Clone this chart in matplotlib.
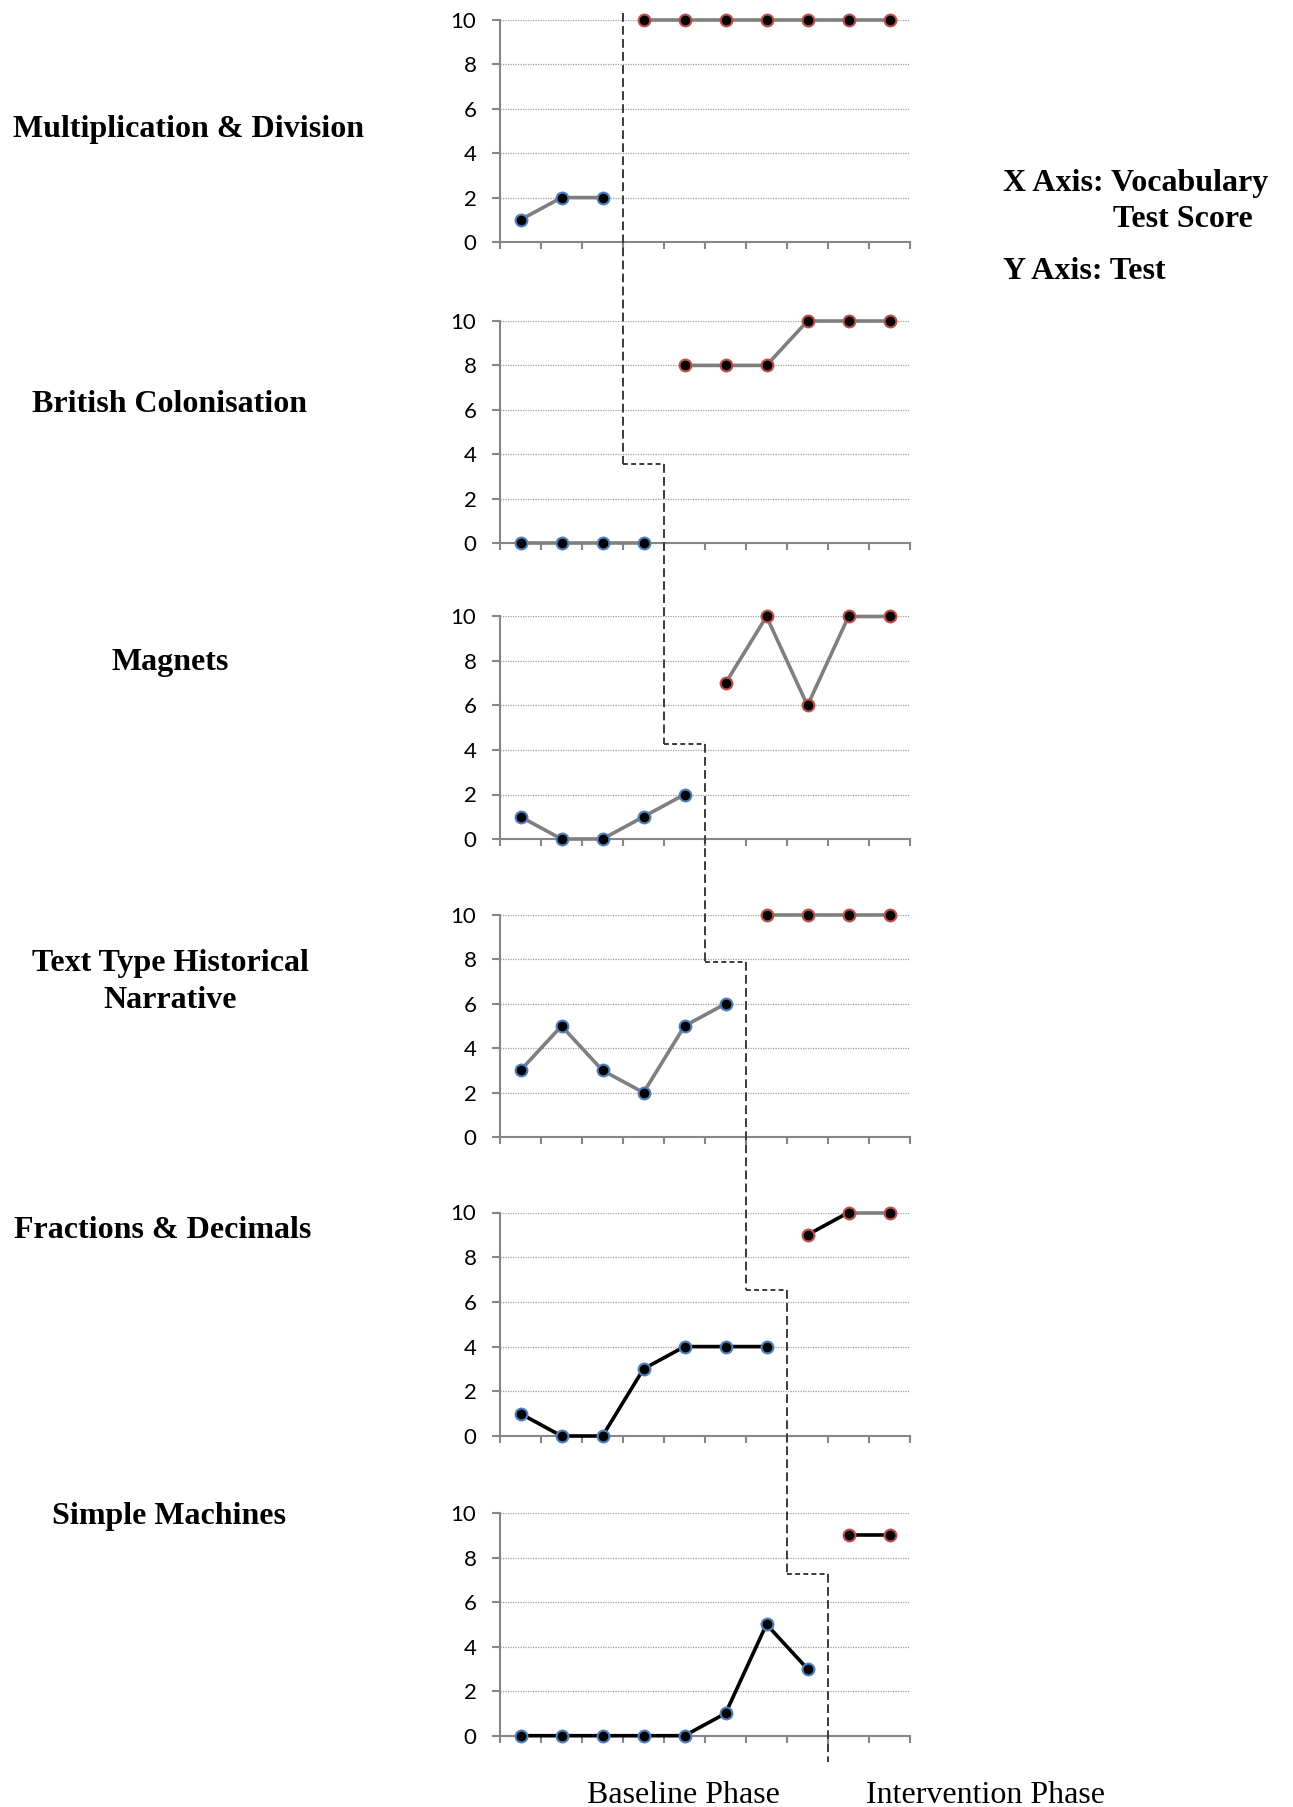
import matplotlib
matplotlib.use("Agg")
import matplotlib.pyplot as plt
from matplotlib.lines import Line2D

# ---------------- data ----------------
topics = ["Multiplication & Division", "British Colonisation", "Magnets",
          "Text Type Historical\nNarrative", "Fractions & Decimals", "Simple Machines"]
baseline_1 = [1, 2, 2]
intervention_1 = [10, 10, 10, 10, 10, 10, 10]
baseline_2 = [0, 0, 0, 0]
intervention_2 = [8, 8, 8, 10, 10, 10]
baseline_3 = [1, 0, 0, 1, 2]
intervention_3 = [7, 10, 6, 10, 10]
baseline_4 = [3, 5, 3, 2, 5, 6]
intervention_4 = [10, 10, 10, 10]
baseline_5 = [1, 0, 0, 3, 4, 4, 4]
intervention_5 = [9, 10, 10]
baseline_6 = [0, 0, 0, 0, 0, 1, 5, 3]
intervention_6 = [9, 9]
yticks = [0, 2, 4, 6, 8, 10]
phase_labels = ["Baseline Phase", "Intervention Phase"]
axis_notes = ["X Axis: Vocabulary", "Test Score", "Y Axis: Test"]

baselines = [baseline_1, baseline_2, baseline_3, baseline_4, baseline_5, baseline_6]
interventions = [intervention_1, intervention_2, intervention_3, intervention_4,
                 intervention_5, intervention_6]

# ---------------- style ----------------
W, H = 1293, 1807
DPI = 100
fig = plt.figure(figsize=(W / DPI, H / DPI), dpi=DPI)

line_colors = ["#7f7f7f", "#7f7f7f", "#7f7f7f", "#7f7f7f", "black", "black"]
blue_edge = "#4f81bd"
red_edge = "#c0504d"
axis_gray = "#868686"

# panel pixel extents (top of y=10, y=0)
panel_px = [(20, 242), (321, 543), (616.5, 839), (915, 1137), (1212.5, 1436), (1513, 1735.7)]
x_left_px, x_right_px = 500, 910

# staircase step levels (data units in the panel where the step occurs)
step_levels = [3.55, 4.25, 7.9, 6.53, 7.25]
stair_top, stair_bottom = 10.3, -1.17

# left label positions (px): x, y, ha
label_pos = [(12.7, 137, "left"), (170, 412.5, "center"), (170, 670, "center"),
             (170.5, 982, "center"), (14, 1238, "left"), (169.4, 1524, "center")]

LW = 2.6
MS = 8.5

axes = []
for i in range(6):
    top, bot = panel_px[i]
    ax = fig.add_axes([x_left_px / W, 1 - bot / H, (x_right_px - x_left_px) / W, (bot - top) / H])
    axes.append(ax)
    n_total = len(baselines[i]) + len(interventions[i])
    xb = list(range(len(baselines[i])))
    xi = list(range(len(baselines[i]), n_total))
    ax.set_xlim(-0.5, n_total - 0.5)
    ax.set_ylim(0, 10)
    ax.set_yticks(yticks)
    ax.set_xticks([k - 0.5 for k in range(n_total + 1)])
    ax.set_xticklabels([])
    for sp in ["top", "right"]:
        ax.spines[sp].set_visible(False)
    for sp in ["left", "bottom"]:
        ax.spines[sp].set_color(axis_gray)
        ax.spines[sp].set_linewidth(1.5)
    ax.tick_params(axis="x", direction="out", length=5, width=1.5, color=axis_gray)
    ax.tick_params(axis="y", direction="out", length=6, width=1.5, color=axis_gray,
                   pad=11, labelsize=16)
    for lab in ax.get_yticklabels():
        lab.set_fontfamily("Lato")
    ax.yaxis.grid(True, linestyle=(0, (1, 1)), color="#a0a0a0", linewidth=0.9)
    ax.set_axisbelow(True)
    lc = line_colors[i]
    ax.plot(xb, baselines[i], color=lc, lw=LW, zorder=3, clip_on=False,
            marker="o", ms=MS, mfc="black", mec=blue_edge, mew=1.5)
    if i == 4:
        # first intervention segment black, the rest gray (as in reference)
        ax.plot(xi[1:], interventions[i][1:], color="#7f7f7f", lw=LW, zorder=3, clip_on=False)
        ax.plot(xi[:2], interventions[i][:2], color=lc, lw=LW, zorder=3, clip_on=False)
        ax.plot(xi, interventions[i], ls="none", zorder=4, clip_on=False,
                marker="o", ms=MS, mfc="black", mec=red_edge, mew=1.5)
    else:
        ax.plot(xi, interventions[i], color=lc, lw=LW, zorder=3, clip_on=False,
                marker="o", ms=MS, mfc="black", mec=red_edge, mew=1.5)

    x, yb, ha = label_pos[i]
    va = "center" if "\n" in topics[i] else "baseline"
    fig.text(x / W, 1 - yb / H, topics[i], ha=ha, va=va, family="Liberation Serif",
             fontweight="bold", fontsize=23, linespacing=1.35, multialignment="center")

# ---------------- staircase phase-change line ----------------
inv = fig.transFigure.inverted()


def fpt(ax, x, y):
    return inv.transform(ax.transData.transform((x, y)))


def seg(p, q, dashes):
    ln = Line2D([p[0], q[0]], [p[1], q[1]], transform=fig.transFigure, color="#3a3a3a",
                lw=1.4, dashes=dashes)
    fig.add_artist(ln)


vdash = (4.5, 2.2)
hdash = (2.5, 1.7)
bounds = [len(b) - 0.5 for b in baselines]
cur = fpt(axes[0], bounds[0], stair_top)
for i in range(1, 6):
    a = fpt(axes[i], bounds[i - 1], step_levels[i - 1])
    seg(cur, a, vdash)
    b = fpt(axes[i], bounds[i], step_levels[i - 1])
    seg(a, b, hdash)
    cur = b
seg(cur, fpt(axes[5], bounds[5], stair_bottom), vdash)

# ---------------- side and bottom texts ----------------
fig.text(1003 / W, 1 - 191 / H, axis_notes[0], ha="left", va="baseline",
         family="Liberation Serif", fontweight="bold", fontsize=23)
fig.text(1113 / W, 1 - 227 / H, axis_notes[1], ha="left", va="baseline",
         family="Liberation Serif", fontweight="bold", fontsize=23)
fig.text(1003 / W, 1 - 279 / H, axis_notes[2], ha="left", va="baseline",
         family="Liberation Serif", fontweight="bold", fontsize=23)
fig.text(683 / W, 1 - 1803 / H, phase_labels[0], ha="center", va="baseline",
         family="Liberation Serif", fontsize=23)
fig.text(985 / W, 1 - 1803 / H, phase_labels[1], ha="center", va="baseline",
         family="Liberation Serif", fontsize=23)

fig.savefig("out.png", dpi=DPI)
